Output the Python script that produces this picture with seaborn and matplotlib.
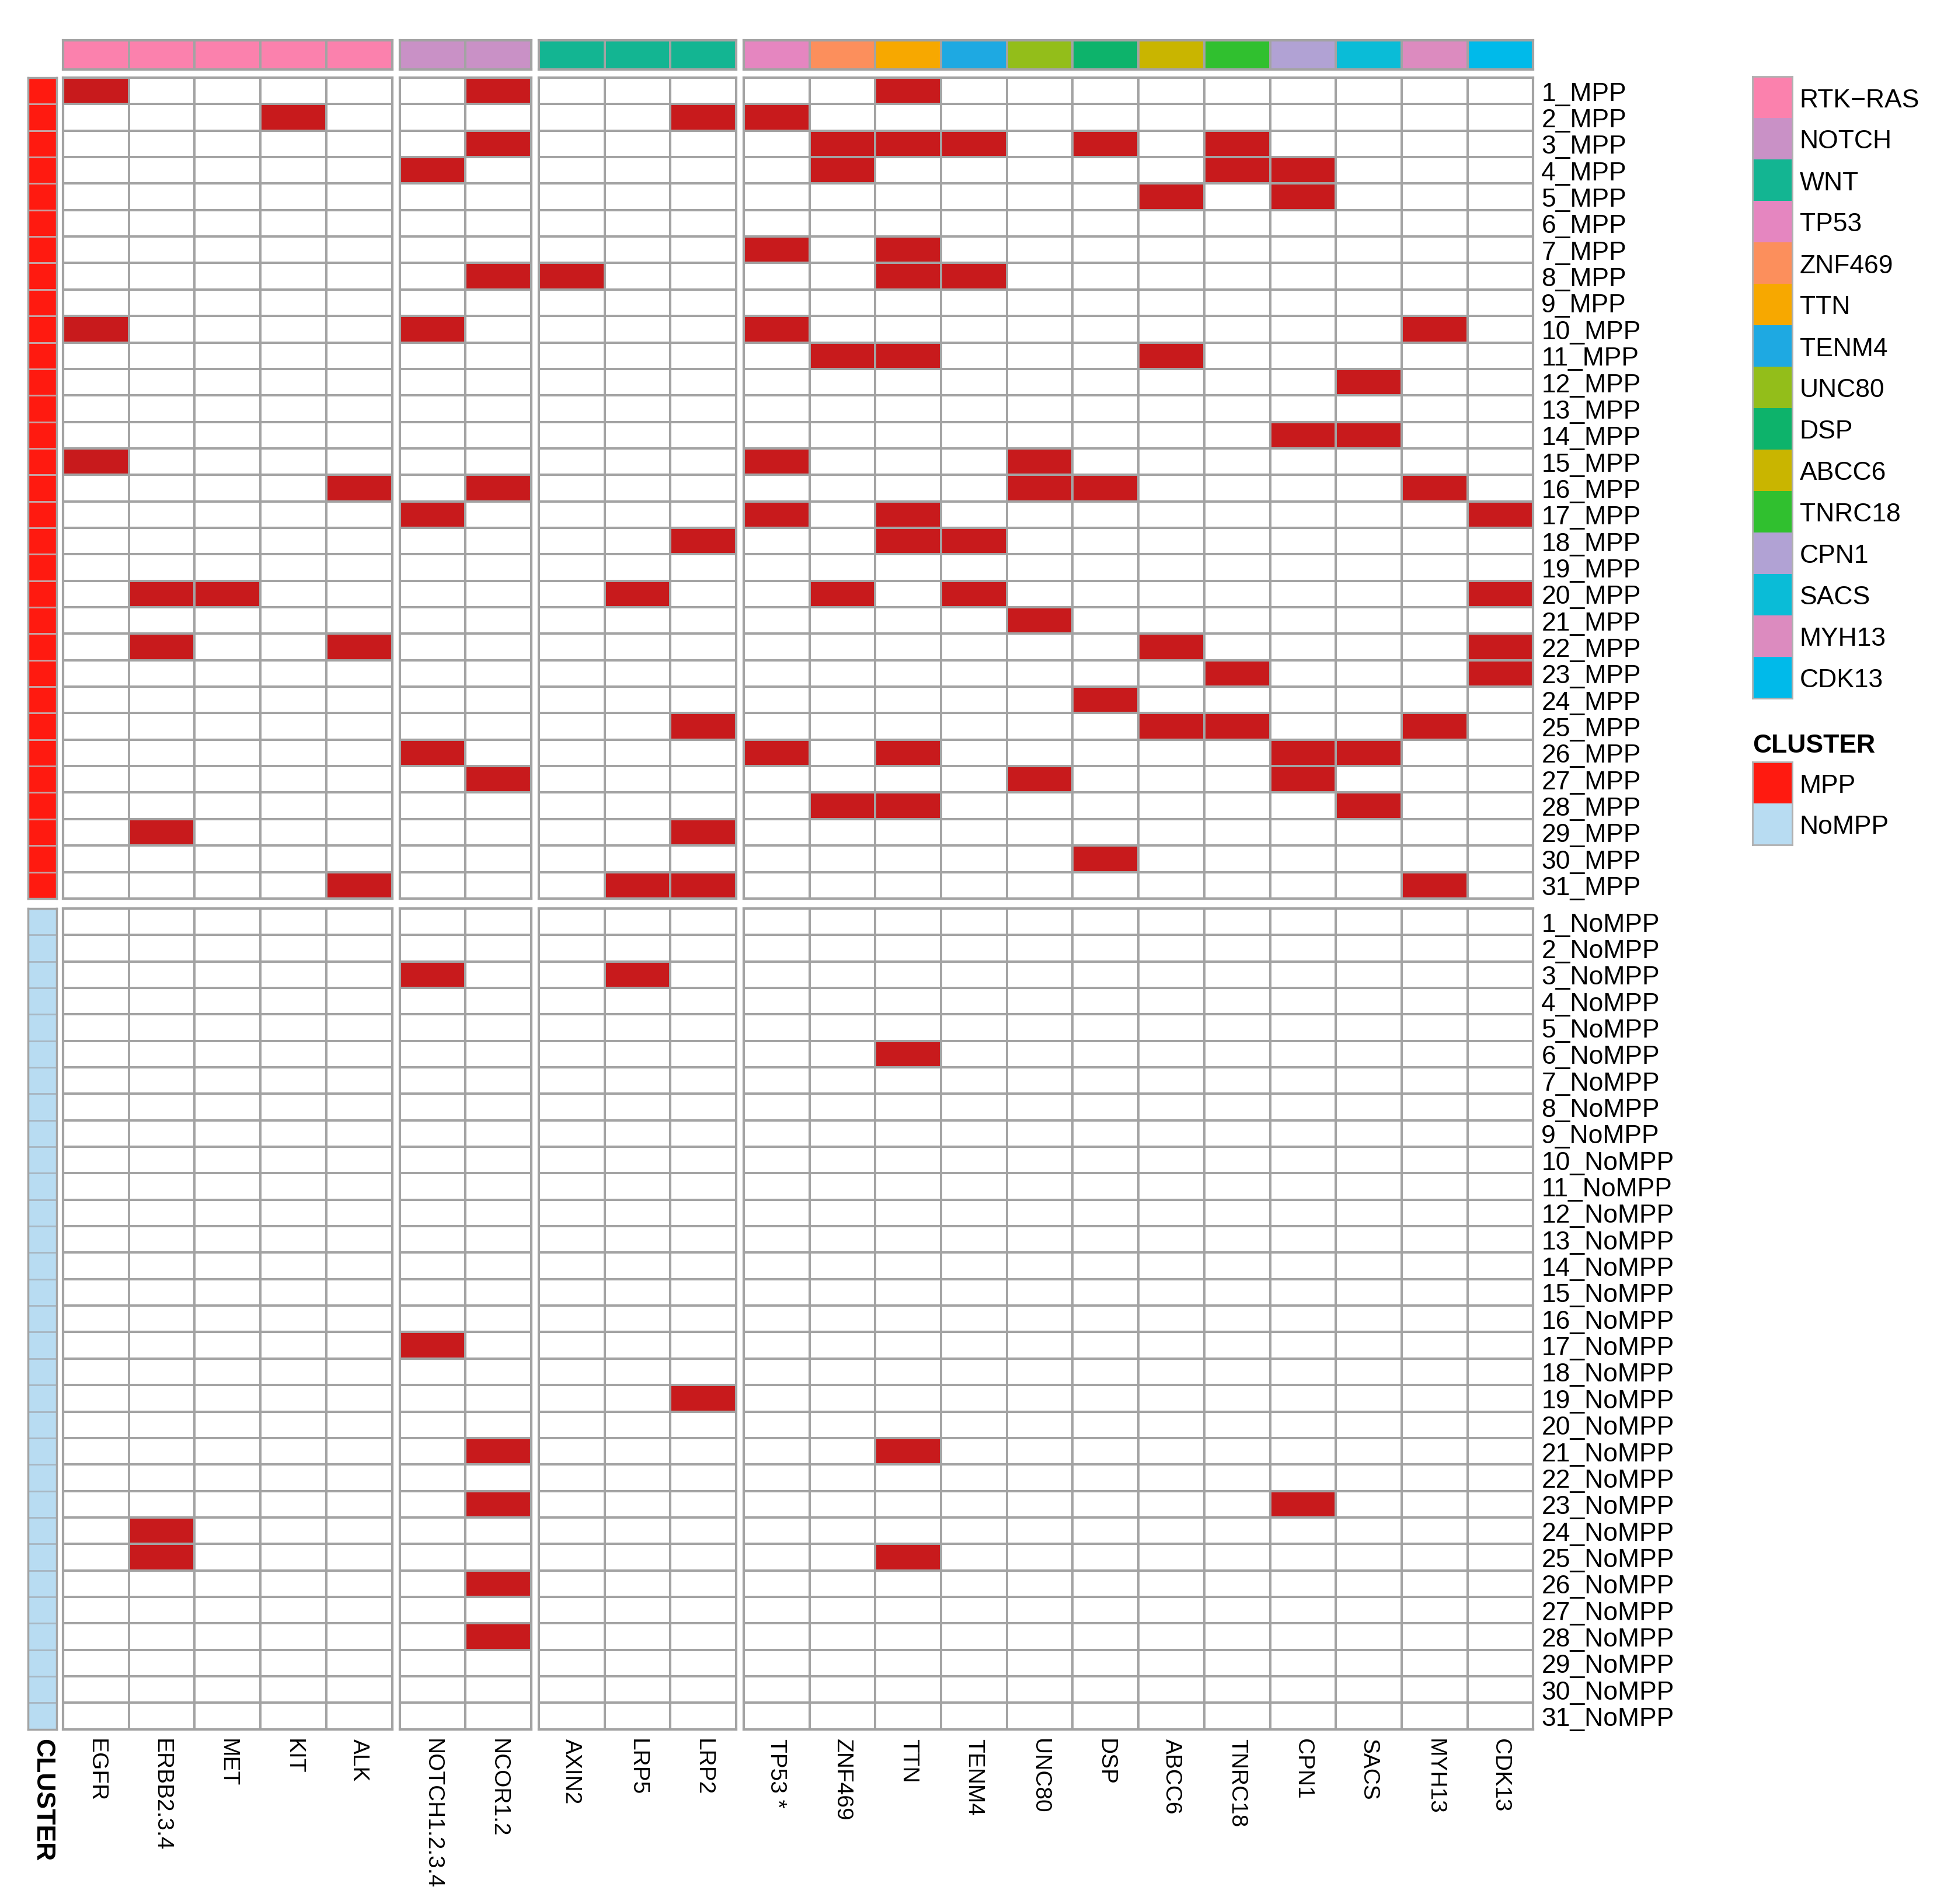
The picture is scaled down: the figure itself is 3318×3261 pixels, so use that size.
import numpy as np
import pandas as pd
import matplotlib
matplotlib.use("Agg")
import matplotlib.pyplot as plt
from matplotlib.colors import ListedColormap
import seaborn as sns

# ---------------- data ----------------
genes = ["EGFR", "ERBB2.3.4", "MET", "KIT", "ALK",
         "NOTCH1.2.3.4", "NCOR1.2",
         "AXIN2", "LRP5", "LRP2",
         "TP53", "ZNF469", "TTN", "TENM4", "UNC80", "DSP", "ABCC6",
         "TNRC18", "CPN1", "SACS", "MYH13", "CDK13"]
gene_labels = ["EGFR", "ERBB2.3.4", "MET", "KIT", "ALK",
               "NOTCH1.2.3.4", "NCOR1.2",
               "AXIN2", "LRP5", "LRP2",
               "TP53 *", "ZNF469", "TTN", "TENM4", "UNC80", "DSP", "ABCC6",
               "TNRC18", "CPN1", "SACS", "MYH13", "CDK13"]
gene_block = ["RTK", "RTK", "RTK", "RTK", "RTK",
              "NOTCH", "NOTCH",
              "WNT", "WNT", "WNT",
              "OTHER", "OTHER", "OTHER", "OTHER", "OTHER", "OTHER", "OTHER",
              "OTHER", "OTHER", "OTHER", "OTHER", "OTHER"]
gene_pathway = ["RTK-RAS", "RTK-RAS", "RTK-RAS", "RTK-RAS", "RTK-RAS",
                "NOTCH", "NOTCH",
                "WNT", "WNT", "WNT",
                "TP53", "ZNF469", "TTN", "TENM4", "UNC80", "DSP", "ABCC6",
                "TNRC18", "CPN1", "SACS", "MYH13", "CDK13"]

pathways = ["RTK-RAS", "NOTCH", "WNT", "TP53", "ZNF469", "TTN", "TENM4",
            "UNC80", "DSP", "ABCC6", "TNRC18", "CPN1", "SACS", "MYH13", "CDK13"]
pathway_colors = ["#FB81AD", "#C991C6", "#13B592", "#E586C0", "#FC8F5C",
                  "#F7A800", "#1EA9E2", "#93BE1A", "#0DB36B", "#C9B500",
                  "#30C02F", "#B1A2D4", "#0ABCD7", "#DC8BBF", "#00BAEA"]

clusters = ["MPP", "NoMPP"]
cluster_colors = ["#FF1A10", "#B8DCF2"]

mpp_mutations = [
    ["EGFR", "NCOR1.2", "TTN"],
    ["KIT", "LRP2", "TP53"],
    ["NCOR1.2", "ZNF469", "TTN", "TENM4", "DSP", "TNRC18"],
    ["NOTCH1.2.3.4", "ZNF469", "TNRC18", "CPN1"],
    ["ABCC6", "CPN1"],
    [],
    ["TP53", "TTN"],
    ["NCOR1.2", "AXIN2", "TTN", "TENM4"],
    [],
    ["EGFR", "NOTCH1.2.3.4", "TP53", "MYH13"],
    ["ZNF469", "TTN", "ABCC6"],
    ["SACS"],
    [],
    ["CPN1", "SACS"],
    ["EGFR", "TP53", "UNC80"],
    ["ALK", "NCOR1.2", "UNC80", "DSP", "MYH13"],
    ["NOTCH1.2.3.4", "TP53", "TTN", "CDK13"],
    ["LRP2", "TTN", "TENM4"],
    [],
    ["ERBB2.3.4", "MET", "LRP5", "ZNF469", "TENM4", "CDK13"],
    ["UNC80"],
    ["ERBB2.3.4", "ALK", "ABCC6", "CDK13"],
    ["TNRC18", "CDK13"],
    ["DSP"],
    ["LRP2", "ABCC6", "TNRC18", "MYH13"],
    ["NOTCH1.2.3.4", "TP53", "TTN", "CPN1", "SACS"],
    ["NCOR1.2", "UNC80", "CPN1"],
    ["ZNF469", "TTN", "SACS"],
    ["ERBB2.3.4", "LRP2"],
    ["DSP"],
    ["ALK", "LRP5", "LRP2", "MYH13"],
]
nompp_mutations = [
    [], [], ["NOTCH1.2.3.4", "LRP5"], [], [], ["TTN"], [], [], [], [],
    [], [], [], [], [], [], ["NOTCH1.2.3.4"], [], ["LRP2"], [],
    ["NCOR1.2", "TTN"], [], ["NCOR1.2", "CPN1"], ["ERBB2.3.4"],
    ["ERBB2.3.4", "TTN"], ["NCOR1.2"], [], ["NCOR1.2"], [], [], [],
]
mpp_samples = [f"{i}_MPP" for i in range(1, len(mpp_mutations) + 1)]
nompp_samples = [f"{i}_NoMPP" for i in range(1, len(nompp_mutations) + 1)]

# ---------------- tables ----------------
def to_matrix(muts, samples):
    m = pd.DataFrame(0, index=samples, columns=genes)
    for s, gl in zip(samples, muts):
        for g in gl:
            m.loc[s, g] = 1
    return m

mats = [to_matrix(mpp_mutations, mpp_samples), to_matrix(nompp_mutations, nompp_samples)]
ann = pd.DataFrame([[pathways.index(p) for p in gene_pathway]], columns=genes)

blocks = []
for b in gene_block:
    if b not in blocks:
        blocks.append(b)
block_cols = [[g for g, bb in zip(genes, gene_block) if bb == b] for b in blocks]

# ---------------- layout (pixels) ----------------
W, H = 3318, 3262
fig = plt.figure(figsize=(W / 100, H / 100), dpi=100)
plt.rcParams["font.family"] = ["Liberation Sans", "DejaVu Sans"]

def add_ax(x, y, w, h):
    return fig.add_axes([x / W, 1 - (y + h) / H, w / W, h / H])

col_w, gap_x, x0 = 112.7, 13.0, 108.0
row_h, gap_y, y0 = 45.35, 17.0, 134.0
ann_y, ann_h = 70.0, 50.0
clu_x, clu_w = 48.0, 49.0

grid_col = "#A3A3A3"
mut_cmap = ListedColormap(["#FFFFFF", "#C81A1C"])
path_cmap = ListedColormap(pathway_colors)
clu_cmap = ListedColormap(cluster_colors)

def frame(ax, lw=3.0, color=grid_col):
    for s in ax.spines.values():
        s.set_visible(True)
        s.set_color(color)
        s.set_linewidth(lw)

row_starts = []
yy = y0
for m in mats:
    row_starts.append(yy)
    yy += len(m) * row_h + gap_y

xx = x0
for bi, cols in enumerate(block_cols):
    w = len(cols) * col_w
    # top annotation
    ax = add_ax(xx, ann_y, w, ann_h)
    sns.heatmap(ann[cols], ax=ax, cmap=path_cmap, vmin=-0.5, vmax=len(pathways) - 0.5,
                cbar=False, linewidths=1.5, linecolor=grid_col, xticklabels=False, yticklabels=False)
    frame(ax)
    for ri, m in enumerate(mats):
        ax = add_ax(xx, row_starts[ri], w, len(m) * row_h)
        last_block = bi == len(block_cols) - 1
        bottom = ri == len(mats) - 1
        sns.heatmap(m[cols], ax=ax, cmap=mut_cmap, vmin=0, vmax=1, cbar=False,
                    linewidths=1.6, linecolor=grid_col,
                    xticklabels=[gene_labels[genes.index(c)] for c in cols] if bottom else False,
                    yticklabels=list(m.index) if last_block else False)
        frame(ax)
        ax.set_xlabel("")
        ax.set_ylabel("")
        if last_block:
            ax.yaxis.tick_right()
            ax.tick_params(axis="y", length=0, pad=10, labelsize=32, labelrotation=0)
            for t in ax.get_yticklabels():
                t.set_ha("left")
        if bottom:
            ax.tick_params(axis="x", length=0, pad=11, labelsize=28)
            for t in ax.get_xticklabels():
                t.set_rotation(270)
                t.set_va("top")
                t.set_ha("center")
    xx += w + gap_x

# cluster annotation column
for ri, m in enumerate(mats):
    ax = add_ax(clu_x, row_starts[ri], clu_w, len(m) * row_h)
    cdata = pd.DataFrame({"CLUSTER": [ri] * len(m)}, index=m.index)
    bottom = ri == len(mats) - 1
    sns.heatmap(cdata, ax=ax, cmap=clu_cmap, vmin=-0.5, vmax=1.5, cbar=False,
                linewidths=1.0, linecolor="#C8A0A0" if ri == 0 else "#A8B8C4",
                xticklabels=["CLUSTER"] if bottom else False, yticklabels=False)
    frame(ax, lw=2.5)
    ax.set_ylabel("")
    if bottom:
        ax.tick_params(axis="x", length=0, pad=11, labelsize=32)
        for t in ax.get_xticklabels():
            t.set_rotation(270)
            t.set_va("top")
            t.set_ha("center")
            t.set_fontweight("bold")

# legends as colour columns
leg_x, leg_w, leg_h = 3002.0, 68.0, 71.0
ax = add_ax(leg_x, 132.0, leg_w, len(pathways) * leg_h)
sns.heatmap(pd.DataFrame({"p": list(range(len(pathways)))}, index=pathways), ax=ax,
            cmap=path_cmap, vmin=-0.5, vmax=len(pathways) - 0.5, cbar=False,
            linewidths=0, xticklabels=False,
            yticklabels=[p.replace("-", "\u2212") for p in pathways])
frame(ax, lw=2.0, color="#B0B0B0")
ax.set_ylabel("")
ax.yaxis.tick_right()
ax.tick_params(axis="y", length=0, pad=9, labelsize=32, labelrotation=0)
for t in ax.get_yticklabels():
    t.set_ha("left")

ax = add_ax(leg_x, 1306.0, leg_w, len(clusters) * leg_h)
sns.heatmap(pd.DataFrame({"c": list(range(len(clusters)))}, index=clusters), ax=ax,
            cmap=clu_cmap, vmin=-0.5, vmax=1.5, cbar=False, linewidths=0,
            xticklabels=False, yticklabels=clusters)
frame(ax, lw=2.0, color="#B0B0B0")
ax.set_ylabel("")
ax.set_title("CLUSTER", loc="left", fontsize=32, fontweight="bold", pad=12)
ax.yaxis.tick_right()
ax.tick_params(axis="y", length=0, pad=9, labelsize=32, labelrotation=0)
for t in ax.get_yticklabels():
    t.set_ha("left")

fig.savefig("out.png", dpi=100, facecolor="white")
